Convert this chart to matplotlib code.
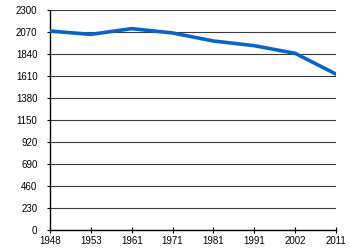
import matplotlib.pyplot as plt

years = ['1948', '1953', '1961', '1971', '1981', '1991', '2002', '2011']
values = [2080, 2045, 2105, 2060, 1976, 1927, 1847, 1630]
yticks = [0, 230, 460, 690, 920, 1150, 1380, 1610, 1840, 2070, 2300]

plt.rcParams['font.family'] = ['Liberation Sans', 'DejaVu Sans']

fig = plt.figure(figsize=(3.5, 2.5), dpi=100)
ax = fig.add_axes([50 / 350, 20 / 250, 286 / 350, 220 / 250])

x = list(range(len(years)))
ax.plot(x, values, color='#0a64c8', linewidth=2.6, solid_capstyle='round', zorder=3)

ax.set_xlim(0, len(years) - 1)
ax.set_ylim(0, 2300)
ax.set_xticks(x)
ax.set_xticklabels(years)
ax.set_yticks(yticks)
ax.yaxis.grid(True, color='#3a3a3a', linewidth=0.8)
ax.set_axisbelow(True)

for s in ['top', 'right']:
    ax.spines[s].set_visible(False)
ax.spines['left'].set_linewidth(1.0)
ax.spines['bottom'].set_linewidth(1.0)

ax.tick_params(axis='x', direction='inout', length=5, width=0.8, labelsize=7, pad=1.5)
ax.tick_params(axis='y', direction='out', length=2, width=0.8, labelsize=7, pad=7)

fig.savefig('out.png', dpi=100)
